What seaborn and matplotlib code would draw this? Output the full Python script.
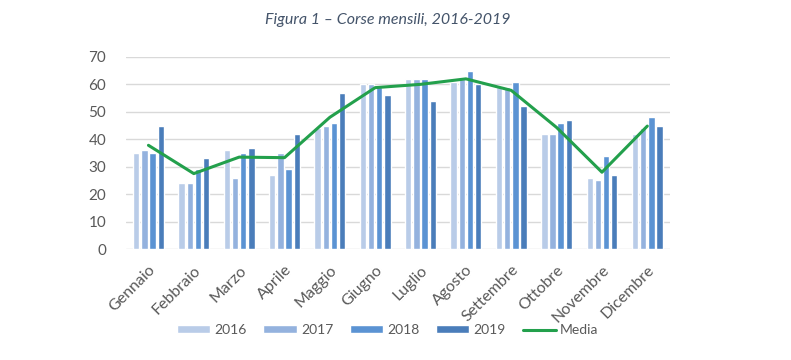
import pandas as pd
import numpy as np
import matplotlib.pyplot as plt
import seaborn as sns

# Data
months = ["Gennaio", "Febbraio", "Marzo", "Aprile", "Maggio", "Giugno",
          "Luglio", "Agosto", "Settembre", "Ottobre", "Novembre", "Dicembre"]
y2016 = [35, 24, 36, 27, 44, 60, 62, 61, 59, 42, 26, 42]
y2017 = [36, 24, 26, 35, 45, 60, 62, 62, 59, 42, 25, 44]
y2018 = [35, 29, 35, 29, 46, 59, 62, 65, 61, 46, 34, 48]
y2019 = [45, 33, 37, 42, 57, 56, 54, 60, 52, 47, 27, 45]
media = [37.8, 27.5, 33.5, 33.3, 48.0, 58.8, 60.0, 62.0, 57.8, 44.3, 28.0, 44.8]
years = ["2016", "2017", "2018", "2019"]

df = pd.DataFrame({"Mese": months, "2016": y2016, "2017": y2017,
                   "2018": y2018, "2019": y2019})
long = df.melt(id_vars="Mese", var_name="Anno", value_name="Corse")

# Style
sns.set_theme(style="white")
plt.rcParams["font.family"] = ["Lato", "DejaVu Sans"]
PALETTE = {"2016": "#b9cce8", "2017": "#94b2de", "2018": "#5b93d3", "2019": "#4a7dba"}
GREEN = "#23a04c"
GREY = "#595959"

fig = plt.figure(figsize=(7.91, 3.6), dpi=100)
ax = fig.add_axes([0.159, 0.308, 0.688, 0.534])

sns.barplot(data=long, x="Mese", y="Corse", hue="Anno", order=months,
            hue_order=years, palette=PALETTE, width=0.72, gap=0.22,
            saturation=1, ax=ax)
sns.lineplot(x=months, y=media, color=GREEN, linewidth=2.2, sort=False,
             label="Media", ax=ax)

ax.set_ylim(0, 70)
ax.set_yticks(range(0, 71, 10))
ax.set_xlim(-0.5, len(months) - 0.5)
ax.yaxis.grid(True, color="#d9d9d9", linewidth=1)
ax.set_axisbelow(True)
for s in ax.spines.values():
    s.set_visible(False)
ax.set_xlabel("")
ax.set_ylabel("")
ax.tick_params(axis="y", labelsize=11, labelcolor=GREY, length=0, pad=14)
ax.tick_params(axis="x", labelsize=11.5, labelcolor=GREY, length=0, pad=10)
plt.setp(ax.get_xticklabels(), rotation=45, ha="right", rotation_mode="anchor")

handles, labels = ax.get_legend_handles_labels()
ax.get_legend().remove()
fig.legend(handles, labels, loc="center", bbox_to_anchor=(0.49, 0.083),
           ncol=5, frameon=False, fontsize=10, labelcolor=GREY,
           handlelength=2.4, handleheight=0.55, handletextpad=0.3,
           columnspacing=1.2)

fig.text(0.49, 0.945, "Figura 1 – Corse mensili, 2016-2019", ha="center",
         va="center", fontsize=11.5, style="italic", color="#44546a")

plt.savefig("out.png", dpi=100)
plt.close()
